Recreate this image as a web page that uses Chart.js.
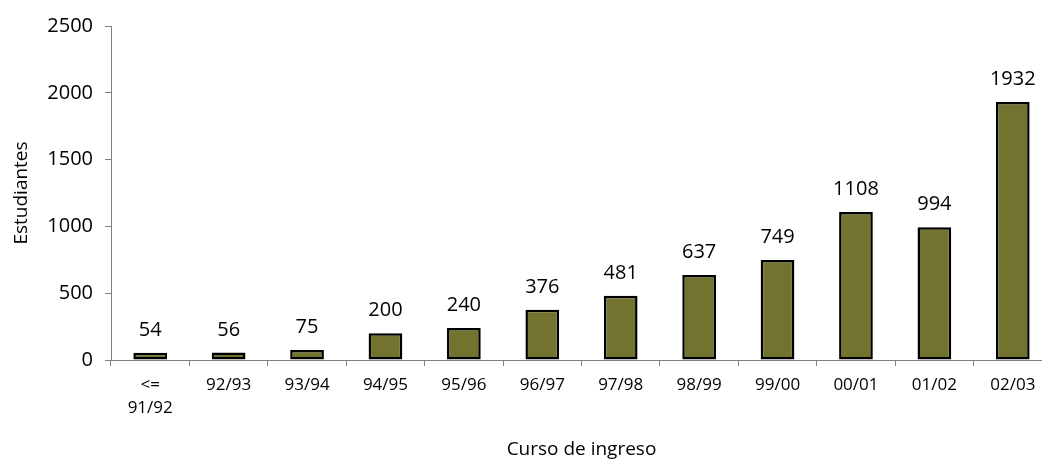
<!doctype html>
<html lang="es">
<head>
    <meta charset="UTF-8">
    <title>Estudiantes por curso de ingreso</title>
    <script src="https://cdn.jsdelivr.net/npm/chart.js"></script>
    <style>
        html, body { margin: 0; padding: 0; background: #fff; overflow: hidden; }
        #wrap { width: 1052px; height: 461px; }
    </style>
</head>
<body>
<div id="wrap">
    <canvas id="myChart" width="1052" height="461"></canvas>
</div>

<script>
    // datos
    var cursos = [['<=', '91/92'], '92/93', '93/94', '94/95', '95/96', '96/97', '97/98', '98/99', '99/00', '00/01', '01/02', '02/03'];
    var estudiantes = [54, 56, 75, 200, 240, 376, 481, 637, 749, 1108, 994, 1932];
    var yTicks = [0, 500, 1000, 1500, 2000, 2500];

    var fuente = "'Open Sans', 'DejaVu Sans', sans-serif";

    // etiquetas encima de las barras
    var etiquetas = {
        id: 'etiquetas',
        afterDatasetsDraw: function (chart) {
            var ctx = chart.ctx;
            var meta = chart.getDatasetMeta(0);
            ctx.save();
            ctx.font = '20px ' + fuente;
            ctx.fillStyle = '#000';
            ctx.textAlign = 'center';
            ctx.textBaseline = 'alphabetic';
            meta.data.forEach(function (bar, i) {
                ctx.fillText(String(estudiantes[i]), bar.x, bar.y - 17);
            });
            ctx.restore();
        }
    };

    var ctx = document.getElementById('myChart');

    var myChart = new Chart(ctx, {
        type: 'bar',
        data: {
            labels: cursos,
            datasets: [{
                label: 'Estudiantes',
                data: estudiantes,
                backgroundColor: '#72732f',
                borderColor: '#000',
                borderWidth: 2.5,
                borderSkipped: false,
                categoryPercentage: 1,
                barPercentage: 0.43
            }]
        },
        options: {
            responsive: false,
            animation: false,
            devicePixelRatio: 1,
            layout: { padding: { top: 26, left: 0, right: 0, bottom: 0 } },
            plugins: {
                legend: { display: false },
                tooltip: { enabled: false }
            },
            scales: {
                x: {
                    afterFit: function (scale) { scale.height = 101; },
                    grid: {
                        offset: true,
                        drawOnChartArea: false,
                        tickLength: 6,
                        color: '#808080'
                    },
                    border: { color: '#808080', width: 1 },
                    ticks: {
                        color: '#000',
                        padding: 8,
                        maxRotation: 0,
                        autoSkip: false,
                        font: { family: fuente, size: 17, lineHeight: 1.35 }
                    },
                    title: {
                        display: true,
                        text: 'Curso de ingreso',
                        color: '#000',
                        padding: { top: 0, bottom: 0 },
                        font: { family: fuente, size: 19 }
                    }
                },
                y: {
                    min: 0,
                    max: 2500,
                    afterFit: function (scale) { scale.width = 111; },
                    afterBuildTicks: function (scale) {
                        scale.ticks = yTicks.map(function (v) { return { value: v }; });
                    },
                    grid: {
                        drawOnChartArea: false,
                        tickLength: 6,
                        color: '#808080'
                    },
                    border: { color: '#808080', width: 1 },
                    ticks: {
                        color: '#000',
                        padding: 12,
                        font: { family: fuente, size: 20 },
                        callback: function (v) { return String(v); }
                    },
                    title: {
                        display: true,
                        text: 'Estudiantes',
                        color: '#000',
                        padding: { top: 10, bottom: 0 },
                        font: { family: fuente, size: 19 }
                    }
                }
            }
        },
        plugins: [etiquetas]
    });
</script>
</body>
</html>
